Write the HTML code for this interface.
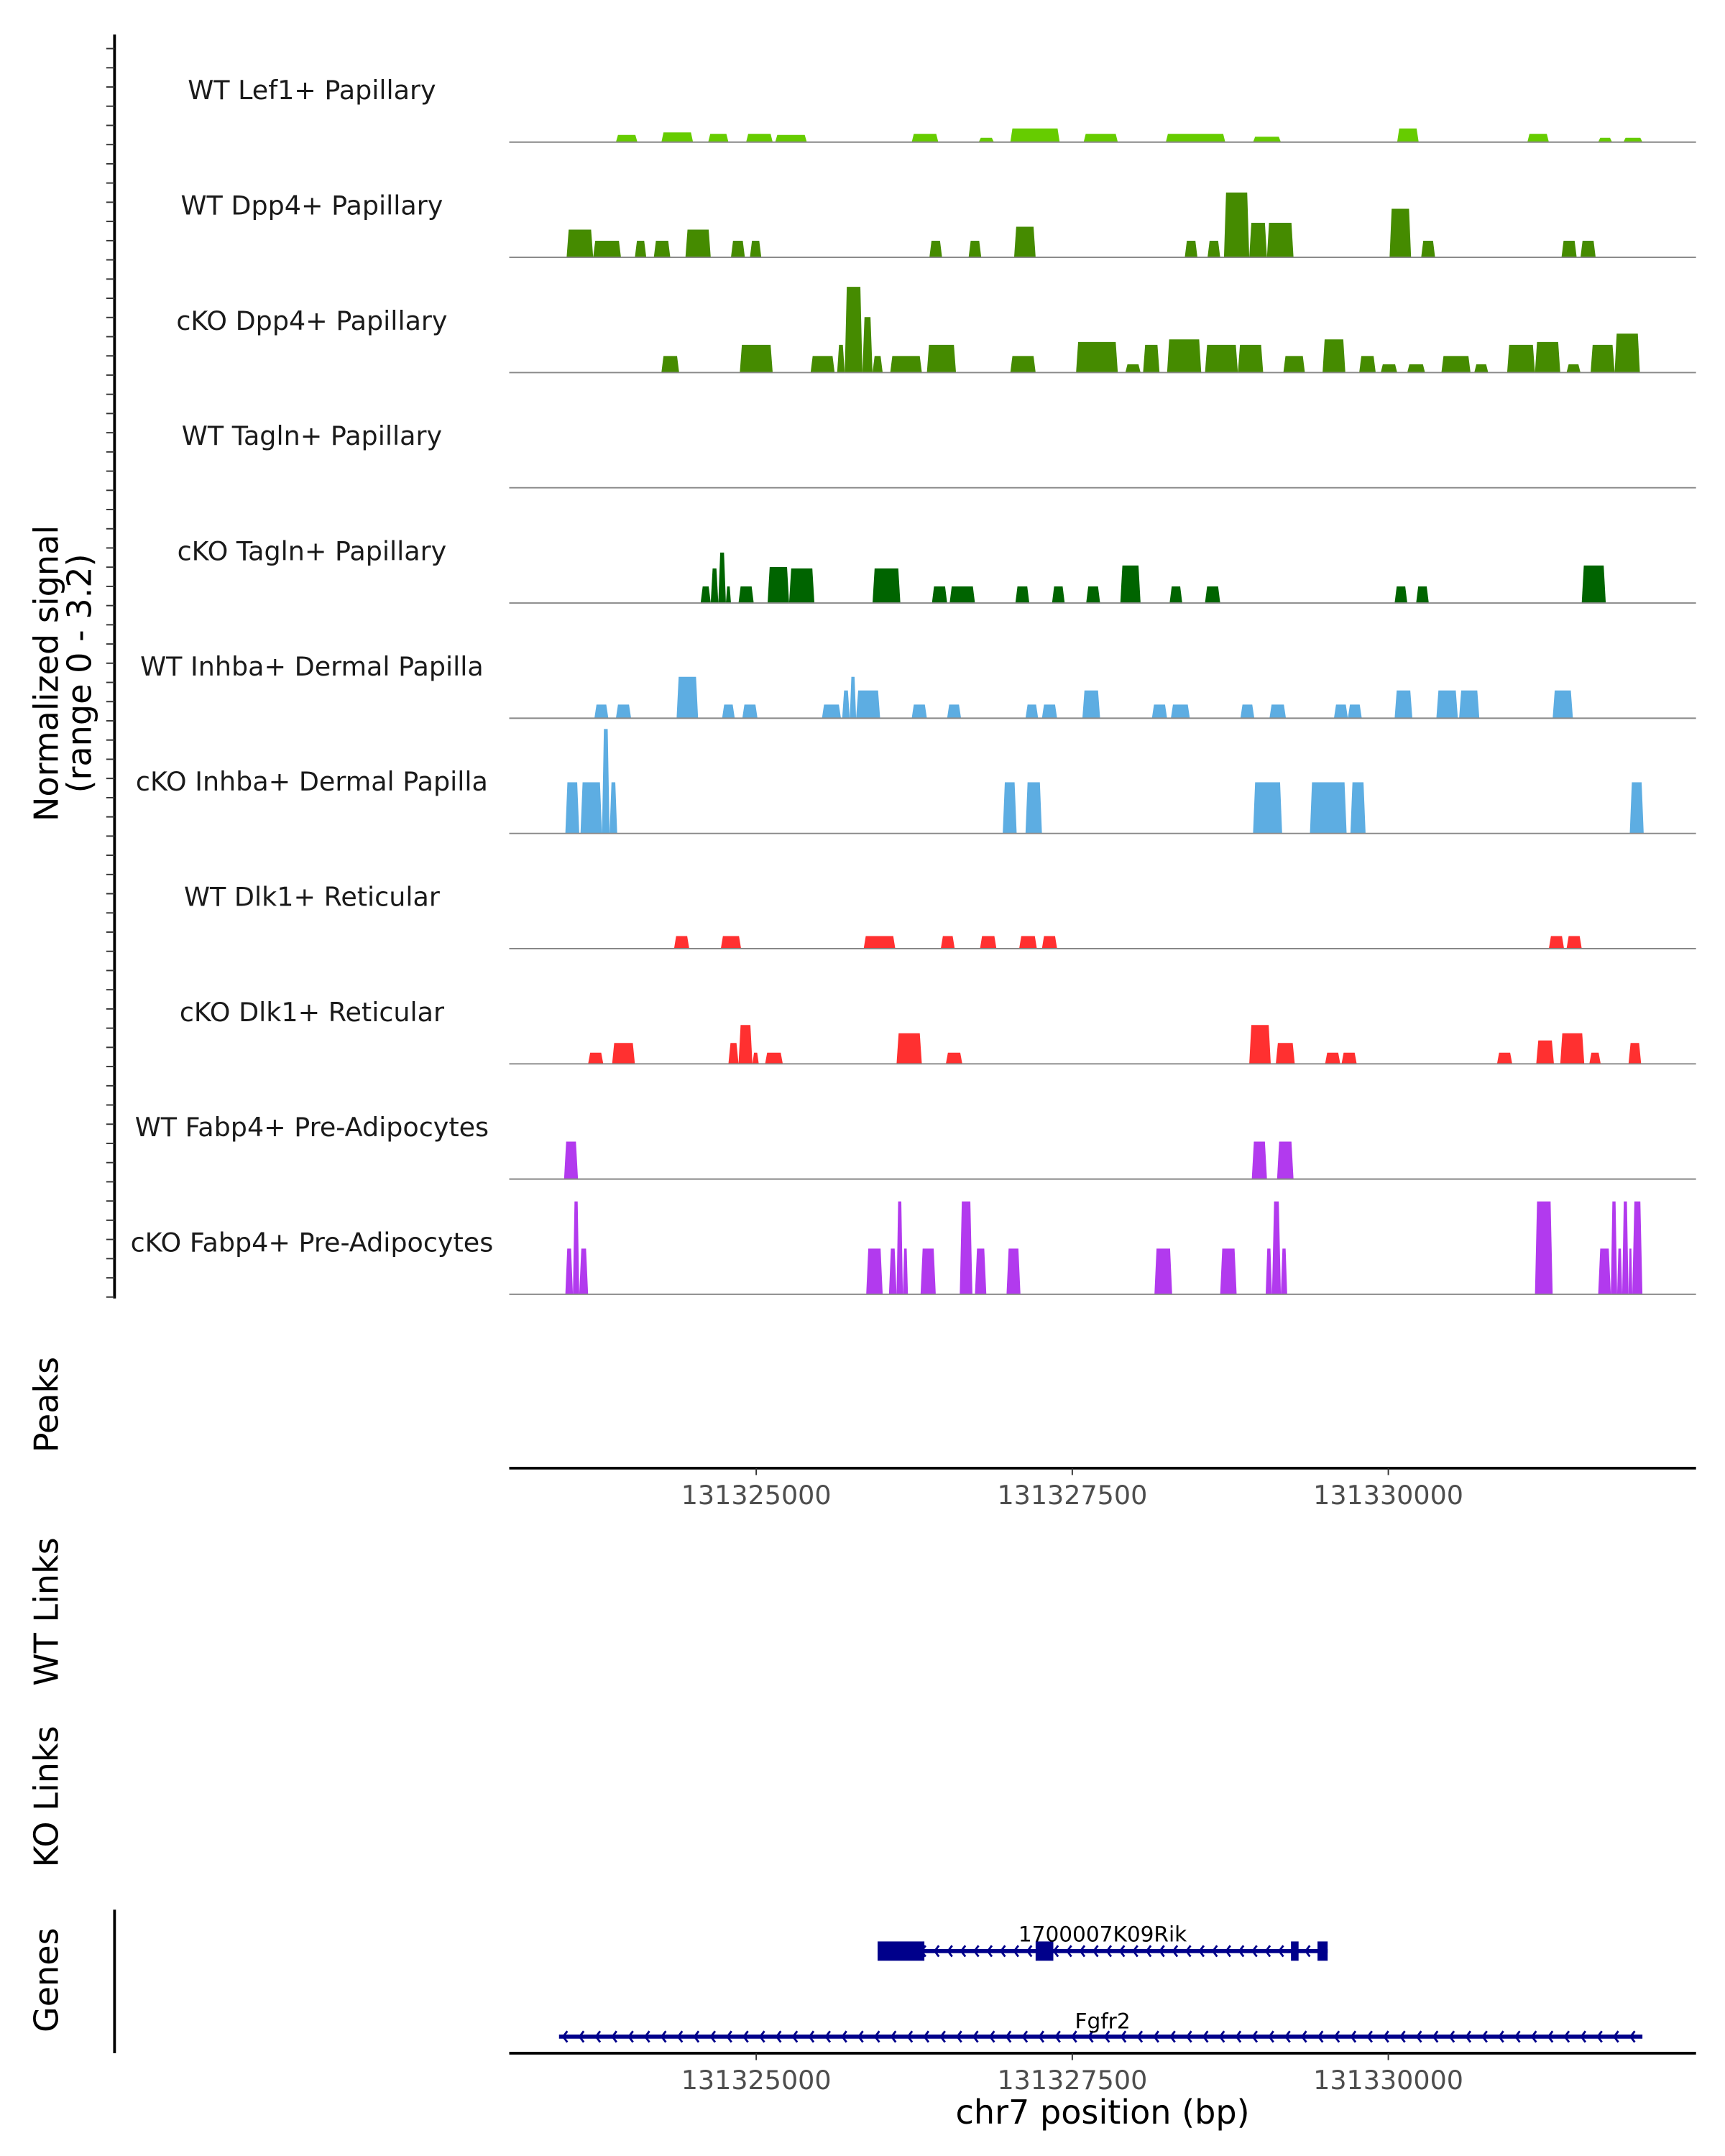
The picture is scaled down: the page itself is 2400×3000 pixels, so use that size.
<!DOCTYPE html>
<html><head><meta charset="utf-8"><style>
html,body{margin:0;padding:0;background:#fff;}
svg{display:block;}
text{font-family:"DejaVu Sans","Liberation Sans",sans-serif;}
</style></head><body>
<svg id="chart" width="2400" height="3000" viewBox="0 0 1250 1562.5" xmlns="http://www.w3.org/2000/svg">
<rect width="1250" height="1562.5" fill="#fff"/>
<g id="tracks"></g>
<g id="axes"></g>
<g id="genes"></g>
</svg>
<script>
const regionStart = 131323046, regionEnd = 131332434;
const xTicks = [131325000, 131327500, 131330000];
const trackNames = ["WT Lef1+ Papillary","WT Dpp4+ Papillary","cKO Dpp4+ Papillary","WT Tagln+ Papillary","cKO Tagln+ Papillary","WT Inhba+ Dermal Papilla","cKO Inhba+ Dermal Papilla","WT Dlk1+ Reticular","cKO Dlk1+ Reticular","WT Fabp4+ Pre-Adipocytes","cKO Fabp4+ Pre-Adipocytes"];
const trackColors = ["#66CC00","#458B00","#458B00","#006400","#006400","#5DADE2","#5DADE2","#FF3030","#FF3030","#B23AEE","#B23AEE"];
const yMax = 3.2;
const lef1WT = [[131323890,131324060,0.2],[131324250,131324500,0.27],[131324620,131324780,0.23],[131324920,131325130,0.23],[131325150,131325400,0.2],[131326230,131326440,0.23],[131326760,131326880,0.12],[131327010,131327400,0.38],[131327590,131327860,0.23],[131328240,131328710,0.23],[131328930,131329150,0.15],[131330070,131330240,0.38],[131331100,131331270,0.23],[131331660,131331770,0.12],[131331860,131332010,0.12]];
const dpp4WT = [[131323500,131323710,0.77],[131323710,131323930,0.46],[131324040,131324130,0.46],[131324190,131324320,0.46],[131324440,131324640,0.77],[131324800,131324910,0.46],[131324950,131325040,0.46],[131326370,131326470,0.46],[131326680,131326780,0.46],[131327040,131327210,0.85],[131328390,131328490,0.46],[131328570,131328670,0.46],[131328700,131328900,1.8],[131328900,131329040,0.96],[131329040,131329250,0.96],[131330010,131330180,1.35],[131330260,131330370,0.46],[131331370,131331490,0.46],[131331520,131331640,0.46]];
const dpp4KO = [[131324250,131324390,0.46],[131324870,131325130,0.77],[131325430,131325620,0.46],[131325640,131325700,0.77],[131325700,131325840,2.38],[131325840,131325920,1.54],[131325920,131326000,0.46],[131326060,131326310,0.46],[131326350,131326580,0.77],[131327010,131327210,0.46],[131327530,131327860,0.85],[131327920,131328040,0.23],[131328060,131328190,0.77],[131328250,131328520,0.92],[131328550,131328810,0.77],[131328810,131329010,0.77],[131329170,131329340,0.46],[131329480,131329660,0.92],[131329770,131329900,0.46],[131329940,131330070,0.23],[131330150,131330290,0.23],[131330420,131330650,0.46],[131330680,131330790,0.23],[131330940,131331160,0.77],[131331160,131331360,0.85],[131331410,131331520,0.23],[131331600,131331790,0.77],[131331790,131331990,1.08]];
const taglnWT = [];
const taglnKO = [[131324560,131324640,0.46],[131324640,131324700,0.96],[131324700,131324760,1.4],[131324760,131324800,0.46],[131324860,131324980,0.46],[131325090,131325260,1.0],[131325260,131325460,0.96],[131325920,131326140,0.96],[131326390,131326510,0.46],[131326530,131326730,0.46],[131327050,131327160,0.46],[131327340,131327440,0.46],[131327610,131327720,0.46],[131327880,131328040,1.04],[131328270,131328370,0.46],[131328550,131328670,0.46],[131330050,131330150,0.46],[131330220,131330320,0.46],[131331530,131331720,1.04]];
const inhbaWT = [[131323720,131323830,0.38],[131323890,131324010,0.38],[131324370,131324540,1.15],[131324730,131324830,0.38],[131324890,131325010,0.38],[131325520,131325670,0.38],[131325680,131325740,0.77],[131325740,131325790,1.15],[131325790,131325980,0.77],[131326230,131326350,0.38],[131326510,131326620,0.38],[131327130,131327230,0.38],[131327260,131327380,0.38],[131327580,131327720,0.77],[131328130,131328250,0.38],[131328280,131328430,0.38],[131328830,131328940,0.38],[131329060,131329190,0.38],[131329570,131329680,0.38],[131329680,131329790,0.38],[131330050,131330190,0.77],[131330380,131330550,0.77],[131330560,131330720,0.77],[131331300,131331460,0.77]];
const inhbaKO = [[131323490,131323600,1.42],[131323610,131323780,1.42],[131323780,131323840,2.9],[131323840,131323900,1.42],[131326950,131327060,1.42],[131327130,131327260,1.42],[131328930,131329160,1.42],[131329380,131329670,1.42],[131329700,131329820,1.42],[131331910,131332020,1.42]];
const dlk1WT = [[131324350,131324470,0.35],[131324720,131324880,0.35],[131325850,131326100,0.35],[131326460,131326570,0.35],[131326770,131326900,0.35],[131327080,131327220,0.35],[131327260,131327380,0.35],[131331270,131331390,0.35],[131331410,131331530,0.35]];
const dlk1KO = [[131323670,131323790,0.31],[131323860,131324040,0.58],[131324780,131324860,0.58],[131324860,131324970,1.08],[131324970,131325020,0.31],[131325070,131325210,0.31],[131326110,131326310,0.85],[131326500,131326630,0.31],[131328900,131329070,1.08],[131329110,131329260,0.58],[131329500,131329620,0.31],[131329630,131329750,0.31],[131330860,131330980,0.31],[131331170,131331310,0.65],[131331360,131331550,0.85],[131331590,131331680,0.31],[131331900,131332000,0.58]];
const fabp4WT = [[131323480,131323590,1.04],[131328920,131329040,1.04],[131329120,131329250,1.04]];
const fabp4KO = [[131323490,131323550,1.27],[131323550,131323600,2.58],[131323600,131323670,1.27],[131325870,131326000,1.27],[131326050,131326110,1.27],[131326110,131326160,2.58],[131326160,131326200,1.27],[131326300,131326420,1.27],[131326610,131326710,2.58],[131326730,131326820,1.27],[131326980,131327090,1.27],[131328150,131328290,1.27],[131328670,131328800,1.27],[131329030,131329080,1.27],[131329080,131329150,2.58],[131329150,131329200,1.27],[131331160,131331300,2.58],[131331660,131331760,1.27],[131331760,131331810,2.58],[131331810,131331850,1.27],[131331850,131331900,2.58],[131331900,131331930,1.27],[131331930,131332010,2.58]];
const trackData = [lef1WT,dpp4WT,dpp4KO,taglnWT,taglnKO,inhbaWT,inhbaKO,dlk1WT,dlk1KO,fabp4WT,fabp4KO];
const gene1Name = "1700007K09Rik", gene1Span = [131325960,131329520];
const gene1Exons = [[131325960,131326330],[131327210,131327350],[131329230,131329290],[131329440,131329520]];
const gene2Name = "Fgfr2", gene2Span = [131323440,131332010];

const NS = "http://www.w3.org/2000/svg";
const X0 = 369, X1 = 1229;
const xs = v => X0 + (v - regionStart) / (regionEnd - regionStart) * (X1 - X0);
const firstBase = 103, trackH = 83.5;
const base = i => firstBase + i * trackH;
const ys = (i, v) => base(i) - v / yMax * trackH;
function mk(tag, attrs, parent, txt){const e=document.createElementNS(NS,tag);for(const k in attrs)e.setAttribute(k,attrs[k]);if(txt!==undefined)e.textContent=txt;parent.appendChild(e);return e;}
const gT = document.getElementById('tracks'), gA = document.getElementById('axes'), gG = document.getElementById('genes');

trackData.forEach((arr, i) => {
  const lbl = mk('text',{x:226,y:base(i)-31,'text-anchor':'middle','font-size':19,fill:'#1a1a1a'},gT,trackNames[i]);
  
  
  arr.forEach(d => {
    const a = xs(d[0]), b = xs(d[1]), t = ys(i, d[2]), s = Math.min(1.5, (b-a)/4);
    const p = mk('polygon',{points:`${a},${base(i)} ${a+s},${t} ${b-s},${t} ${b},${base(i)}`,fill:trackColors[i]},gT);
    
    
  });
  const bl = mk('line',{x1:X0,x2:X1,y1:base(i),y2:base(i),stroke:'#888',"stroke-width":1},gT);
  
  
});

const yl = mk('line',{x1:83,x2:83,y1:25,y2:941,stroke:'#000','stroke-width':2},gA);


for(let k=0;k<66;k++){const y=940-k*13.92; if(y<26)break; mk('line',{x1:77,x2:83,y1:y,y2:y,stroke:'#333','stroke-width':1},gA);}
const yt = mk('text',{transform:'translate(42,488) rotate(-90)','text-anchor':'middle','font-size':24,fill:'#000'},gA,'Normalized signal');


mk('text',{transform:'translate(66,488) rotate(-90)','text-anchor':'middle','font-size':24,fill:'#000'},gA,'(range 0 - 3.2)');
[['Peaks',1018],['WT Links',1168],['KO Links',1302],['Genes',1435]].forEach(([t,y])=>{
  const e = mk('text',{transform:`translate(42,${y}) rotate(-90)`,'text-anchor':'middle','font-size':24,fill:'#000'},gA,t);
  
  
});
const gl = mk('line',{x1:83,x2:83,y1:1384,y2:1488,stroke:'#000','stroke-width':2},gA);



[1064,1488].forEach(y=>{
  const ax = mk('line',{x1:X0,x2:X1,y1:y,y2:y,stroke:'#000','stroke-width':2},gA);
  
  
  xTicks.forEach(v=>{
    mk('line',{x1:xs(v),x2:xs(v),y1:y,y2:y+5,stroke:'#333','stroke-width':1},gA);
    const tl = mk('text',{x:xs(v),y:y+26,'text-anchor':'middle','font-size':19,fill:'#4d4d4d'},gA,String(v));
    
    
  });
});
const xt = mk('text',{x:799,y:1539,'text-anchor':'middle','font-size':24,fill:'#000'},gA,'chr7 position (bp)');



function gene(name, span, exons, y, lw, step, labelY, nm){
  const g = mk('g',{},gG);
  
  
  const a = xs(span[0]), b = xs(span[1]);
  mk('line',{x1:a,x2:b,y1:y,y2:y,stroke:'#00008B','stroke-width':lw},g);
  for(let x=a+3;x<b-2;x+=step){mk('polyline',{points:`${x+3},${y-4} ${x},${y} ${x+3},${y+4}`,fill:'none',stroke:'#00008B','stroke-width':1.5},g);}
  exons.forEach(e=>mk('rect',{x:xs(e[0]),y:y-7,width:xs(e[1])-xs(e[0]),height:14,fill:'#00008B'},g));
  mk('text',{x:799,y:labelY,'text-anchor':'middle','font-size':15.4,fill:'#000'},g,name);
}
gene(gene1Name, gene1Span, gene1Exons, 1414, 3, 9.6, 1407, 'gene-1700007K09Rik');
gene(gene2Name, gene2Span, [], 1476, 3, 11.9, 1470, 'gene-Fgfr2');
</script>
</body></html>
